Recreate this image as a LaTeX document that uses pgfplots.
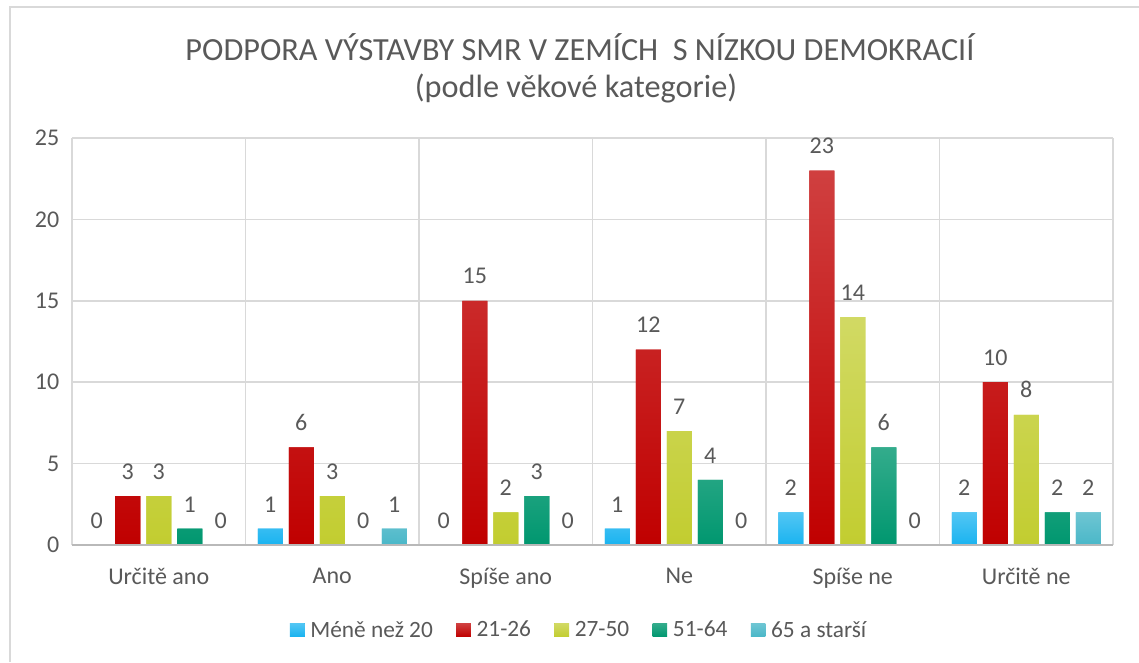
\documentclass[border=0pt]{standalone}
\usepackage{fontspec}
\setmainfont{Carlito}
\usepackage{pgfplots}
\pgfplotsset{compat=1.18}
\definecolor{txt}{HTML}{595959}
\definecolor{gridc}{HTML}{D9D9D9}
\definecolor{cA}{HTML}{19B3F0}
\definecolor{cB}{HTML}{C00000}
\definecolor{cC}{HTML}{C2CD30}
\definecolor{cD}{HTML}{00976F}
\definecolor{cE}{HTML}{4AB7C8}
\begin{document}
\begin{tikzpicture}
\path[use as bounding box] (0pt,0pt) rectangle (854.25pt,496.5pt);
\draw[gridc, line width=1.2pt] (7.5pt,0pt) -- (7.5pt,491.25pt) -- (854.25pt,491.25pt);
\node[text=txt, font=\fontsize{24.2}{29}\selectfont] at (435pt,461.25pt) {PODPORA VÝSTAVBY SMR V ZEMÍCH\ \ S NÍZKOU DEMOKRACIÍ};
\node[text=txt, font=\fontsize{24.2}{29}\selectfont] at (432pt,430.5pt) {(podle věkové kategorie)};
\begin{axis}[
  at={(54pt,87.75pt)}, anchor=south west,
  scale only axis, width=780.75pt, height=305.25pt,
  ymin=0, ymax=25, ytick={0,5,...,25},
  xmin=-0.5, xmax=5.5,
  xtick={0,...,5},
  xticklabels={Určitě ano, Ano, Spíše ano, Ne, Spíše ne, Určitě ne},
  minor xtick={-0.5,0.5,...,5.5},
  xminorgrids, ymajorgrids,
  grid style={gridc, line width=1.2pt},
  minor grid style={gridc, line width=1.2pt},
  axis line style={draw=none},
  major tick length=0pt, minor tick length=0pt,
  tick style={draw=none},
  ticklabel style={text=txt, font=\fontsize{18}{21}\selectfont},
  xticklabel style={yshift=-14pt},
  yticklabel style={xshift=-6pt},
  /pgf/number format/assume math mode=true,
  ybar=4.5pt, bar width=18.75pt,
  nodes near coords,
  nodes near coords style={text=txt, font=\fontsize{18}{21}\selectfont, yshift=9pt},
  legend style={draw=none, at={(0.4875,-0.209)}, anchor=center, legend columns=-1,
    font=\fontsize{17.5}{21}\selectfont, text=txt,
    /tikz/every odd column/.append style={column sep=2.3pt},
    /tikz/every even column/.append style={column sep=15.5pt}},
  legend image code/.code={\fill[#1] (0pt,-5pt) rectangle (11pt,5pt);},
]
\addplot[draw=none, fill=cA, top color=cA!75!white, bottom color=cA] coordinates {(0,0) (1,1) (2,0) (3,1) (4,2) (5,2)};
\addplot[draw=none, fill=cB, top color=cB!75!white, bottom color=cB] coordinates {(0,3) (1,6) (2,15) (3,12) (4,23) (5,10)};
\addplot[draw=none, fill=cC, top color=cC!75!white, bottom color=cC] coordinates {(0,3) (1,3) (2,2) (3,7) (4,14) (5,8)};
\addplot[draw=none, fill=cD, top color=cD!80!white, bottom color=cD] coordinates {(0,1) (1,0) (2,3) (3,4) (4,6) (5,2)};
\addplot[draw=none, fill=cE, top color=cE!80!white, bottom color=cE] coordinates {(0,0) (1,1) (2,0) (3,0) (4,0) (5,2)};
\legend{Méně než 20, 21-26, 27-50, 51-64, 65 a starší}
\draw[gray!55, line width=1.5pt] (rel axis cs:0,0) -- (rel axis cs:1,0);
\end{axis}
\end{tikzpicture}
\end{document}
